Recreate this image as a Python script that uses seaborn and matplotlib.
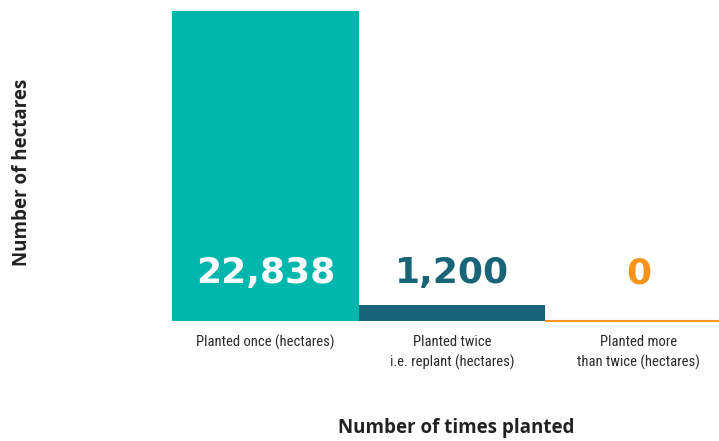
import matplotlib
matplotlib.use("Agg")
import matplotlib.pyplot as plt
import seaborn as sns
import pandas as pd

categories = ["Planted once (hectares)",
              "Planted twice\ni.e. replant (hectares)",
              "Planted more\nthan twice (hectares)"]
hectares = [22838, 1200, 0]
value_labels = ["22,838", "1,200", "0"]

bar_colors = ["#00B7AE", "#1A6478", "#F7941D"]
label_colors = ["white", "#1A6478", "#F7941D"]

df = pd.DataFrame({"category": categories, "hectares": hectares})

sns.set_theme(style="white")
plt.rcParams["font.family"] = ["DejaVu Sans"]

fig = plt.figure(figsize=(7.19, 4.41), dpi=100)
ax = fig.add_axes([172 / 719, 1 - 321 / 441, 1 - 172 / 719, (321 - 11) / 441])

sns.barplot(data=df, x="category", y="hectares", hue="category",
            palette=bar_colors, width=1.0, saturation=1, legend=False, ax=ax)

# zero-height bar drawn as a thin outline so it still shows
for patch, val, col in zip(ax.patches, hectares, bar_colors):
    if val == 0:
        patch.set_edgecolor(col)
        patch.set_linewidth(1.5)
        patch.set_clip_on(False)
    else:
        patch.set_edgecolor("none")
        patch.set_linewidth(0)

ax.set_ylim(0, max(hectares))
ax.set_xlim(-0.5, 2.43)
sns.despine(ax=ax, left=True, bottom=True)
ax.set_yticks([])
ax.set_xlabel("")
ax.set_ylabel("")
ax.tick_params(axis="x", length=0, pad=10)
ax.set_xticks(range(len(categories)))
ax.set_xticklabels(categories, fontsize=10.5, color="#2b2b2b",
                   family=["Roboto Condensed", "DejaVu Sans Condensed", "Roboto"],
                   linespacing=1.45)
ax.grid(False)

# value labels sit at a common height above the baseline
label_y = 3500
for i, (txt, col) in enumerate(zip(value_labels, label_colors)):
    ax.text(i, label_y, txt, ha="center", va="center", color=col,
            fontsize=26, fontweight="bold")

fig.text(22 / 719, 1 - 172 / 441, "Number of hectares", rotation=90,
         ha="center", va="center", fontsize=13.5, fontweight="bold",
         color="#222222", family=["Open Sans", "DejaVu Sans"])
fig.text(456 / 719, 1 - 428 / 441, "Number of times planted",
         ha="center", va="center", fontsize=13.5, fontweight="bold",
         color="#222222", family=["Open Sans", "DejaVu Sans"])

fig.savefig("out.png", dpi=100)
